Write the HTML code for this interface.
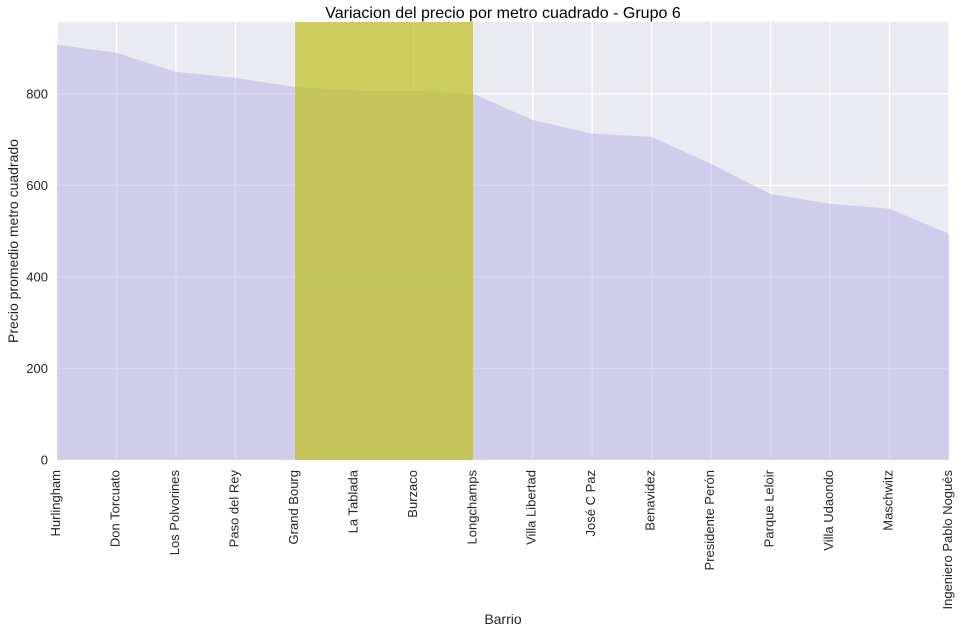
<!DOCTYPE html>
<html><head><meta charset="utf-8"><style>
body{margin:0;background:#fff;font-family:"Liberation Sans",sans-serif;}
</style></head><body>
<svg id="chart" width="962" height="633" xmlns="http://www.w3.org/2000/svg"></svg>
<script>
const categories=["Hurlingham","Don Torcuato","Los Polvorines","Paso del Rey","Grand Bourg","La Tablada","Burzaco","Longchamps","Villa Libertad","José C Paz","Benavidez","Presidente Perón","Parque Leloir","Villa Udaondo","Maschwitz","Ingeniero Pablo Nogués"];
const values=[907,890,848,835,815,807,806,800,743,713,706,647,581,560,549,494];
const yTicks=[0,200,400,600,800];
const highlightStart=4, highlightEnd=7;
const NS="http://www.w3.org/2000/svg";
const svg=document.getElementById('chart');
const L=57,R=949,T=22,B=460,yMax=957;
const x=i=>L+i*(R-L)/(categories.length-1);
const y=v=>B-v/yMax*(B-T);
function mk(t,a,p){const e=document.createElementNS(NS,t);for(const k in a)e.setAttribute(k,a[k]);(p||svg).appendChild(e);return e;}
const bg=mk('rect',{x:L,y:T,width:R-L,height:B-T,fill:'#EAEAF2'});


yTicks.forEach(v=>{
 const g=mk('line',{x1:L,x2:R,y1:y(v),y2:y(v),stroke:'#fff','stroke-width':1.2});
 
 
 const t=mk('text',{x:L-9,y:y(v)+4.5,'text-anchor':'end','font-size':13,fill:'#262626'});
 t.textContent=v;
 
 
});
categories.forEach((c,i)=>{
 const g=mk('line',{x1:x(i),x2:x(i),y1:T,y2:B,stroke:'#fff','stroke-width':1.2});
 
 
 const t=mk('text',{transform:`translate(${x(i)+3},${B+10}) rotate(-90)`,'text-anchor':'end','font-size':13,fill:'#262626'});
 t.textContent=c;
 
 
});
let d=`M${x(0)},${B}`;
values.forEach((v,i)=>d+=` L${x(i)},${y(v)}`);
d+=` L${x(values.length-1)},${B} Z`;
const area=mk('path',{d,fill:'rgba(175,170,225,0.45)'});


const hl=mk('rect',{x:x(highlightStart),y:T,width:x(highlightEnd)-x(highlightStart),height:B-T,fill:'rgba(190,190,25,0.68)'});


const title=mk('text',{x:(L+R)/2,y:18,'text-anchor':'middle','font-size':16,fill:'#000'});
title.textContent='Variacion del precio por metro cuadrado - Grupo 6';


const xt=mk('text',{x:(L+R)/2,y:624,'text-anchor':'middle','font-size':14,fill:'#262626'});
xt.textContent='Barrio';


const yt=mk('text',{transform:`translate(18,${(T+B)/2}) rotate(-90)`,'text-anchor':'middle','font-size':14,fill:'#262626'});
yt.textContent='Precio promedio metro cuadrado';


</script>
</body></html>
